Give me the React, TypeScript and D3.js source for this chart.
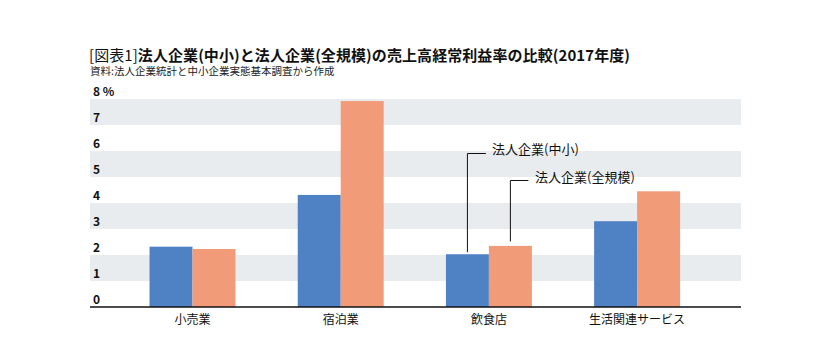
import React from "react";
import * as d3 from "d3";

const categories = ["小売業", "宿泊業", "飲食店", "生活関連サービス"];
const smeValues = [2.32, 4.31, 2.03, 3.3];
const allValues = [2.23, 7.92, 2.35, 4.45];
const yTicks = [0, 1, 2, 3, 4, 5, 6, 7, 8];
const seriesNames = ["法人企業(中小)", "法人企業(全規模)"];
const titlePrefix = "[図表1]";
const titleMain = "法人企業(中小)と法人企業(全規模)の売上高経常利益率の比較(2017年度)";
const subtitle = "資料:法人企業統計と中小企業実態基本調査から作成";

const W = 834;
const H = 359;
const FONT = "'Noto Sans CJK JP', 'Noto Sans', sans-serif";
const BLUE = "#4f82c5";
const ORANGE = "#f19b78";
const BAND = "#e9ecef";

export default function App() {
  const plotLeft = 90;
  const plotRight = 741;
  const y = d3.scaleLinear().domain([0, 8]).range([307, 99]);
  const x = d3
    .scaleBand<string>()
    .domain(categories)
    .range([118.4, 711.2])
    .paddingInner(0.42)
    .paddingOuter(0.21);
  const bw = x.bandwidth() / 2;

  const bands = yTicks.filter((t) => t % 2 === 1);

  const annCat = categories[2];
  const annX0 = (x(annCat) ?? 0) + bw / 2;
  const annX1 = (x(annCat) ?? 0) + bw * 1.5;

  return (
    <svg
      width={W}
      height={H}
      style={{ position: "absolute", left: 0, top: 0, background: "#fff" }}
      fontFamily={FONT}
    >
      <rect x={0} y={0} width={W} height={H} fill="#fff" />
      <text
        x={89}
        y={60.5}
        fontSize={15}
        fill="#111"
        textLength={541}
        lengthAdjust="spacing"
      >
        <tspan fontWeight={400}>{titlePrefix}</tspan>
        <tspan fontWeight={700}>{titleMain}</tspan>
      </text>
      <text x={90} y={75} fontSize={10.5} fill="#222">
        {subtitle}
      </text>

      {bands.map((t) => (
        <rect
          key={t}
          x={plotLeft}
          width={plotRight - plotLeft}
          y={y(t + 1)}
          height={y(t) - y(t + 1)}
          fill={BAND}
        />
      ))}

      {yTicks.map((t) => (
        <text
          key={t}
          x={93}
          y={y(t) - 2.8}
          fontSize={12}
          fontWeight={700}
          fill="#111"
        >
          {t === 8 ? `${t} %` : t}
        </text>
      ))}

      {categories.map((c, i) => (
        <g key={c}>
          <rect
            x={x(c)}
            y={y(smeValues[i])}
            width={bw}
            height={y(0) - y(smeValues[i])}
            fill={BLUE}
          />
          <rect
            x={(x(c) ?? 0) + bw}
            y={y(allValues[i])}
            width={bw}
            height={y(0) - y(allValues[i])}
            fill={ORANGE}
          />
          <text
            x={(x(c) ?? 0) + x.bandwidth() / 2}
            y={324}
            fontSize={12}
            textAnchor="middle"
            fill="#111"
          >
            {c}
          </text>
        </g>
      ))}

      <line
        x1={plotLeft}
        x2={plotRight}
        y1={y(0)}
        y2={y(0)}
        stroke="#111"
        strokeWidth={1.5}
      />

      <polyline
        points={`${annX0},${y(smeValues[2]) - 2} ${annX0},153.5 ${annX0 + 18.5},153.5`}
        fill="none"
        stroke="#111"
        strokeWidth={1}
      />
      <text x={492} y={154} fontSize={13} fill="#111">
        {seriesNames[0]}
      </text>
      <polyline
        points={`${annX1},${y(allValues[2]) - 4.5} ${annX1},180.5 ${annX1 + 18},180.5`}
        fill="none"
        stroke="#111"
        strokeWidth={1}
      />
      <text x={535} y={181.5} fontSize={13} fill="#111">
        {seriesNames[1]}
      </text>
    </svg>
  );
}
